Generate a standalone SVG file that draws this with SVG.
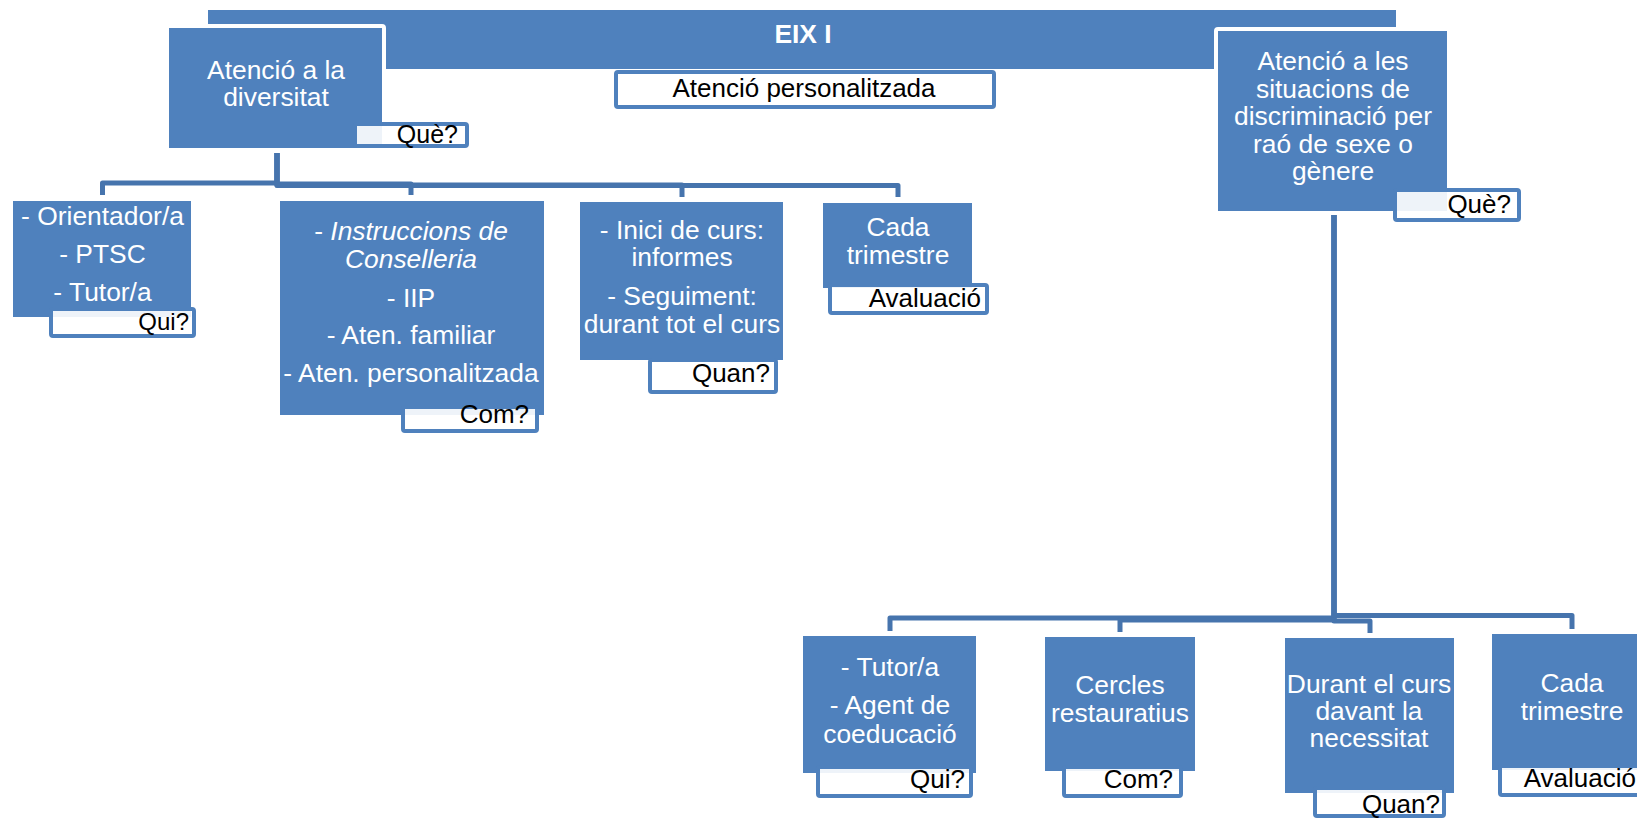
<svg xmlns="http://www.w3.org/2000/svg" width="1637" height="819" viewBox="0 0 1637 819">
<style>
.n{fill:#4F81BD}
.nb{fill:#4F81BD;stroke:#fff;stroke-width:4}
.t{font-family:"Liberation Sans",Arial,sans-serif;font-size:26.4px;fill:#fff;text-anchor:middle}
.lb{fill:#fff;fill-opacity:.9;stroke:#4F81BD;stroke-width:4}
.lt{font-family:"Liberation Sans",Arial,sans-serif;font-size:26px;fill:#000;text-anchor:end}
.c{fill:none;stroke:#4674AD;stroke-width:5;stroke-linejoin:round}
</style>
<rect x="0" y="0" width="1637" height="819" fill="#fff"/>
<g id="connectors">
<path class="c" d="M277 153V183H102.5V195"/>
<path class="c" d="M277 153V184H411V195"/>
<path class="c" d="M277 153V185H682V197"/>
<path class="c" d="M277 153V185.5H898V197"/>
<path class="c" d="M1334 215V618H890V631"/>
<path class="c" d="M1334 215V620H1120V632"/>
<path class="c" d="M1334 215V621H1370V633"/>
<path class="c" d="M1334 215V615.5H1572V629"/>
</g>
<g id="eix">
<rect class="n" x="208" y="10" width="1188" height="59"/>
<text class="t" x="803" y="43" font-weight="bold">EIX I</text>
<rect class="lb" x="616" y="72" width="378" height="35" rx="2"/>
<text class="lt" x="804" y="97" style="text-anchor:middle">Atenció personalitzada</text>
</g>
<g id="diversitat">
<rect class="nb" x="167" y="26" width="217" height="124" rx="2"/>
<text class="t" x="276" y="79">Atenció a la</text>
<text class="t" x="276" y="106">diversitat</text>
<rect class="lb" x="355" y="124" width="112" height="22" rx="2"/>
<text class="lt" x="458" y="143" style="font-size:25px">Què?</text>
</g>
<g id="discriminacio">
<rect class="nb" x="1216" y="29" width="233" height="184" rx="2"/>
<text class="t" x="1333" y="70">Atenció a les</text>
<text class="t" x="1333" y="98">situacions de</text>
<text class="t" x="1333" y="125">discriminació per</text>
<text class="t" x="1333" y="153">raó de sexe o</text>
<text class="t" x="1333" y="180">gènere</text>
<rect class="lb" x="1395" y="190" width="124" height="30" rx="2"/>
<text class="lt" x="1511" y="213">Què?</text>
</g>
<g id="qui1">
<rect class="n" x="13" y="201" width="178" height="116"/>
<text class="t" x="102.5" y="225">- Orientador/a</text>
<text class="t" x="102.5" y="263">- PTSC</text>
<text class="t" x="102.5" y="301">- Tutor/a</text>
<rect class="lb" x="51" y="309" width="143" height="27" rx="2"/>
<text class="lt" x="189" y="330" style="font-size:24px">Qui?</text>
</g>
<g id="com1">
<rect class="n" x="280" y="201" width="264" height="214"/>
<text class="t" x="411" y="240">- <tspan font-style="italic">Instruccions de</tspan></text>
<text class="t" x="411" y="268" font-style="italic">Conselleria</text>
<text class="t" x="411" y="307">- IIP</text>
<text class="t" x="411" y="344">- Aten. familiar</text>
<text class="t" x="411" y="382">- Aten. personalitzada</text>
<rect class="lb" x="403" y="407" width="134" height="24" rx="2"/>
<text class="lt" x="529" y="423">Com?</text>
</g>
<g id="quan1">
<rect class="n" x="580" y="202" width="203" height="158"/>
<text class="t" x="682" y="239">- Inici de curs:</text>
<text class="t" x="682" y="266">informes</text>
<text class="t" x="682" y="305">- Seguiment:</text>
<text class="t" x="682" y="333">durant tot el curs</text>
<rect class="lb" x="650" y="360" width="126" height="32" rx="2"/>
<text class="lt" x="770" y="382">Quan?</text>
</g>
<g id="aval1">
<rect class="n" x="823" y="203" width="149" height="85"/>
<text class="t" x="898" y="236">Cada</text>
<text class="t" x="898" y="264">trimestre</text>
<rect class="lb" x="830" y="285" width="157" height="28" rx="2"/>
<text class="lt" x="981" y="307">Avaluació</text>
</g>
<g id="qui2">
<rect class="n" x="803" y="636" width="173" height="137"/>
<text class="t" x="890" y="676">- Tutor/a</text>
<text class="t" x="890" y="714">- Agent de</text>
<text class="t" x="890" y="743">coeducació</text>
<rect class="lb" x="818" y="767" width="153" height="29" rx="2"/>
<text class="lt" x="965" y="788">Qui?</text>
</g>
<g id="com2">
<rect class="n" x="1045" y="637" width="150" height="134"/>
<text class="t" x="1120" y="694">Cercles</text>
<text class="t" x="1120" y="722">restauratius</text>
<rect class="lb" x="1064" y="767" width="117" height="29" rx="2"/>
<text class="lt" x="1173" y="788">Com?</text>
</g>
<g id="quan2">
<rect class="n" x="1285" y="638" width="169" height="155"/>
<text class="t" x="1369" y="693">Durant el curs</text>
<text class="t" x="1369" y="720">davant la</text>
<text class="t" x="1369" y="747">necessitat</text>
<rect class="lb" x="1315" y="788" width="129" height="28" rx="2"/>
<text class="lt" x="1440" y="813">Quan?</text>
</g>
<g id="aval2">
<rect class="n" x="1492" y="634" width="160" height="136"/>
<text class="t" x="1572" y="692">Cada</text>
<text class="t" x="1572" y="720">trimestre</text>
<rect class="lb" x="1500" y="766" width="158" height="29" rx="2"/>
<text class="lt" x="1636" y="787">Avaluació</text>
</g>
</svg>
